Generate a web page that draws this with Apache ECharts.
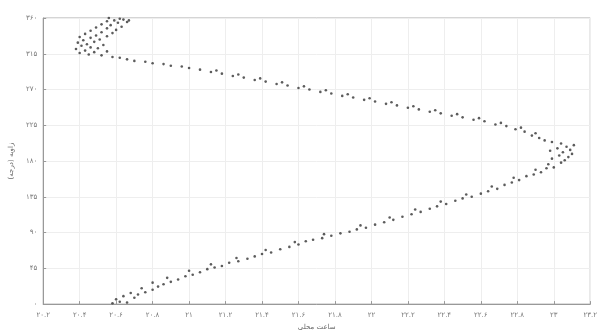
<!DOCTYPE html>
<html>
<head>
<meta charset="utf-8">
<script src="https://cdn.jsdelivr.net/npm/echarts@6/dist/echarts.min.js"></script>
<style>
  html, body { margin: 0; padding: 0; background: #fff; }
  #chart { width: 600px; height: 336px; }
</style>
</head>
<body>
<div id="chart"></div>
<script>
// [hour, angle]
var risingBranch = [
  [20.58,1],[20.62,3],[20.66,2],[20.60,6],[20.70,8],[20.64,10],[20.72,12],[20.68,14],[20.76,15],[20.80,18],
  [20.74,20],[20.83,22],[20.86,25],[20.80,27],[20.90,28],[20.94,31],[20.88,33],[20.98,35],[21.02,37],[21.06,40],
  [21.00,42],[21.10,44],[21.14,46],[21.18,48],[21.12,50],[21.22,52],[21.27,54],[21.32,57],[21.26,58],[21.36,60],
  [21.40,63],[21.45,65],[21.42,68],[21.50,69],[21.55,72],[21.60,75],[21.58,78],[21.64,79],[21.68,81],[21.73,83],
  [21.78,86],[21.74,88],[21.83,89],[21.88,91],[21.92,94],[21.97,96],[21.94,99],[22.02,100],[22.07,103],[22.12,106],
  [22.10,109],[22.17,110],[22.22,113],[22.27,116],[22.24,119],[22.32,120],[22.36,123],[22.41,126],[22.38,129],[22.46,130],
  [22.50,133],[22.55,135],[22.52,138],[22.60,139],[22.64,142],[22.69,145],[22.66,148],[22.73,150],[22.77,153],[22.81,156],
  [22.78,159],[22.85,161],[22.89,163],[22.93,166],[22.90,169],[22.96,171]
];
var apexCluster = [
  [23.00,172],[22.97,176],[23.04,178],[23.06,181],[22.99,183],[23.08,185],[23.03,187],[23.10,189],
  [23.05,191],[22.98,193],[23.09,194],[23.02,196],[23.07,198],[23.11,200],[23.04,202],[22.99,204]
];
var fallingBranch = [
  [22.95,206],[22.92,209],[22.88,212],[22.90,215],[22.84,217],[22.79,220],[22.82,222],[22.74,224],[22.68,226],[22.71,228],
  [22.62,230],[22.56,232],[22.59,234],[22.50,235],[22.44,237],[22.47,239],[22.38,240],[22.32,242],[22.35,244],[22.26,245],
  [22.20,247],[22.23,249],[22.14,250],[22.08,252],[22.11,254],[22.02,255],[21.96,257],[21.99,259],[21.90,260],[21.84,262],
  [21.87,264],[21.78,265],[21.72,267],[21.75,269],[21.66,270],[21.60,272],[21.63,274],[21.54,275],[21.48,277],[21.51,279],
  [21.42,280],[21.36,282],[21.39,284],[21.30,285],[21.24,287],[21.27,289],[21.18,290],[21.12,292],[21.15,294],[21.06,295],
  [21.00,297],[20.96,299],[20.90,300],[20.86,302],[20.80,303],[20.76,305],[20.70,306],[20.66,308],[20.62,310],[20.58,311]
];
var topCluster = [
  [20.52,313],[20.45,314],[20.40,316],[20.48,317],[20.55,318],[20.43,319],[20.38,321],[20.50,322],[20.46,323],[20.41,325],
  [20.53,326],[20.44,327],[20.39,329],[20.48,330],[20.42,332],[20.51,333],[20.46,335],[20.40,336],[20.55,337],[20.49,338],
  [20.43,340],[20.58,341],[20.52,342],[20.46,344],[20.60,345],[20.55,347],[20.49,348],[20.63,349],[20.57,351],[20.52,352],
  [20.61,354],[20.66,355],[20.55,356],[20.59,357],[20.64,358],[20.62,359],[20.56,360],[20.67,357]
];

var xName = 'ساعت محلی';
var yName = 'زاویه (درجه)';

function fa(v) {
  var s = String(Math.round(v * 10) / 10);
  return s.replace(/[0-9]/g, function (d) { return '۰۱۲۳۴۵۶۷۸۹'[+d]; });
}

var chart = echarts.init(document.getElementById('chart'));
var labelStyle = { fontSize: 7, color: '#777', fontFamily: 'DejaVu Sans' };

chart.setOption({
  animation: false,
  grid: { left: 40, right: 3, top: 18, bottom: 24, show: true, borderColor: '#aaa', borderWidth: 1 },
  xAxis: {
    type: 'value', min: 20.2, max: 23.2, interval: 0.2,
    name: xName, nameLocation: 'middle', nameGap: 18,
    nameTextStyle: { fontSize: 7, color: '#666', fontFamily: 'DejaVu Sans' },
    axisLine: { lineStyle: { color: '#999' } },
    axisTick: { inside: true, length: 3, lineStyle: { color: '#999' } },
    axisLabel: Object.assign({ formatter: fa, margin: 8 }, labelStyle),
    splitLine: { lineStyle: { color: '#eee' } }
  },
  yAxis: {
    type: 'value', min: 0, max: 360, interval: 45,
    name: yName, nameLocation: 'middle', nameGap: 26,
    nameTextStyle: { fontSize: 7, color: '#666', fontFamily: 'DejaVu Sans' },
    axisLine: { show: true, lineStyle: { color: '#999' } },
    axisTick: { show: true, inside: true, length: 3, lineStyle: { color: '#999' } },
    axisLabel: Object.assign({ formatter: fa, margin: 6 }, labelStyle),
    splitLine: { lineStyle: { color: '#eee' } }
  },
  series: [{
    type: 'scatter',
    symbolSize: 2.6,
    itemStyle: { color: '#333', opacity: 0.8 },
    data: [].concat(risingBranch, apexCluster, fallingBranch, topCluster)
  }]
});
</script>
</body>
</html>
